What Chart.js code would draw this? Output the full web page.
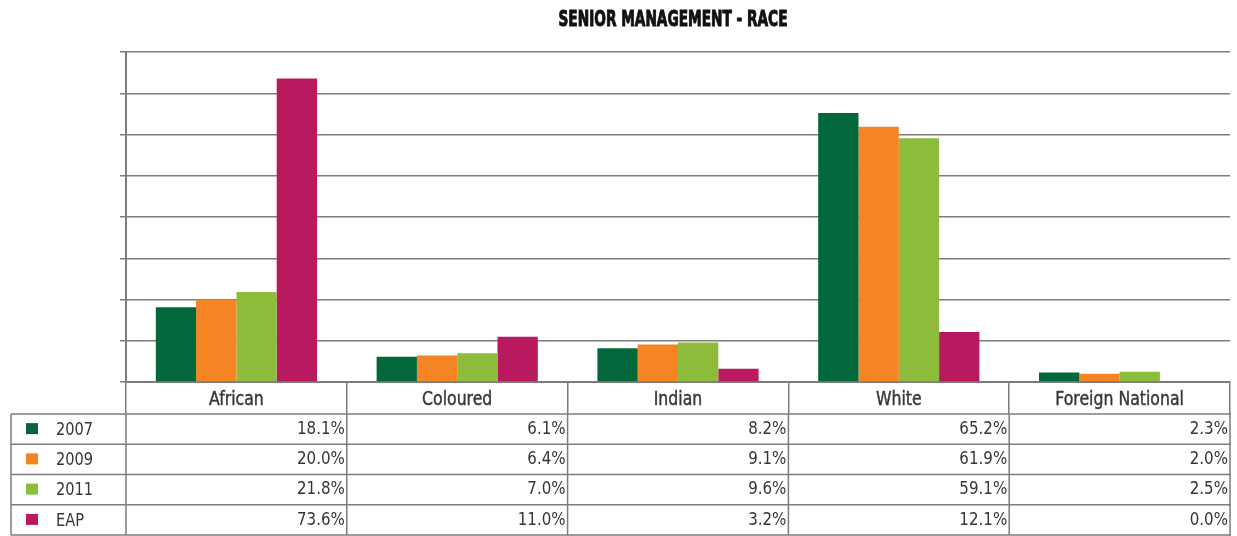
<!DOCTYPE html>
<html lang="en">
<head>
    <meta charset="UTF-8">
    <title>Senior Management - Race</title>
    <script src="https://cdn.jsdelivr.net/npm/chart.js"></script>
    <style>
        body {
            margin: 0;
            background: white;
        }
        #wrap {
            width: 1237px;
            height: 536px;
        }
    </style>
</head>
<body>
    <div id="wrap">
        <canvas id="chart" width="1237" height="536"></canvas>
    </div>

    <script>
        const title = 'SENIOR MANAGEMENT - RACE';
        const categories = ['African', 'Coloured', 'Indian', 'White', 'Foreign National'];
        const seriesNames = ['2007', '2009', '2011', 'EAP'];
        const values2007 = [18.1, 6.1, 8.2, 65.2, 2.3];
        const values2009 = [20.0, 6.4, 9.1, 61.9, 2.0];
        const values2011 = [21.8, 7.0, 9.6, 59.1, 2.5];
        const valuesEAP = [73.6, 11.0, 3.2, 12.1, 0.0];
        const colours = ['#02673a', '#f58423', '#8dbb3b', '#b9195f'];

        const FONT = '"Liberation Sans Narrow", "DejaVu Sans Condensed", sans-serif';
        const LINE = '#7c7c7c';
        const TEXT = '#363636';

        const allValues = [values2007, values2009, values2011, valuesEAP];

        // the original uses a narrow face, so squeeze text a little
        function narrowText(ctx, text, x, y, sx, heavy) {
            ctx.save();
            ctx.translate(x, y);
            ctx.scale(sx, 1);
            if (heavy) {
                ctx.lineWidth = heavy;
                ctx.strokeStyle = ctx.fillStyle;
                ctx.strokeText(text, 0, 0);
            }
            ctx.fillText(text, 0, 0);
            ctx.restore();
        }

        // title, category header row and data table with legend keys
        const tablePlugin = {
            id: 'dataTable',
            afterDraw(chart) {
                const ctx = chart.ctx;
                const area = chart.chartArea;
                const xs = chart.scales.x;
                const colW = xs.width / categories.length;
                const top = area.bottom + 32;
                const bottom = chart.height - 1;
                const rowH = (bottom - top) / seriesNames.length;
                const left = 11;

                ctx.save();

                // title
                ctx.font = 'bold 22px ' + FONT;
                ctx.fillStyle = '#111111';
                ctx.textAlign = 'center';
                ctx.textBaseline = 'middle';
                const tw = ctx.measureText(title).width;
                narrowText(ctx, title, (area.left + area.right) / 2 - 5, 20, Math.min(1, 229 / tw), 1);

                // category names in the header row
                ctx.font = '19px ' + FONT;
                ctx.fillStyle = TEXT;
                categories.forEach((cat, c) => {
                    narrowText(ctx, cat, xs.getPixelForValue(c), area.bottom + 18, 0.92, 0.4);
                });

                ctx.strokeStyle = LINE;
                ctx.lineWidth = 1.5;
                ctx.beginPath();
                for (let r = 0; r <= seriesNames.length; r++) {
                    const y = top + r * rowH;
                    ctx.moveTo(left, y);
                    ctx.lineTo(xs.right + 1, y);
                }
                ctx.moveTo(left, top);
                ctx.lineTo(left, bottom);
                for (let c = 0; c <= categories.length; c++) {
                    const x = xs.getPixelForValue(c) - colW / 2;
                    ctx.moveTo(x, top);
                    ctx.lineTo(x, bottom);
                }
                ctx.stroke();

                ctx.font = '18px ' + FONT;
                seriesNames.forEach((name, r) => {
                    const cy = top + r * rowH + rowH / 2;
                    ctx.fillStyle = colours[r];
                    ctx.fillRect(26, cy - 6, 12, 11);
                    ctx.fillStyle = TEXT;
                    ctx.textAlign = 'left';
                    narrowText(ctx, name, 56, cy + 1, 0.9);
                    ctx.textAlign = 'right';
                    allValues[r].forEach((v, c) => {
                        const x = xs.getPixelForValue(c) + colW / 2 - 2;
                        narrowText(ctx, v.toFixed(1) + '%', x, cy, 0.93);
                    });
                });
                ctx.restore();
            }
        };

        let ctx = document.getElementById('chart').getContext('2d');
        let chart = new Chart(ctx, {
            type: 'bar',
            data: {
                labels: categories,
                datasets: seriesNames.map((name, i) => ({
                    label: name,
                    data: allValues[i],
                    backgroundColor: colours[i],
                    borderWidth: 0,
                    barPercentage: 1,
                    categoryPercentage: 0.73
                }))
            },
            options: {
                responsive: false,
                animation: false,
                devicePixelRatio: 1,
                layout: {
                    padding: { left: 120, right: 7, top: 52, bottom: 122 }
                },
                plugins: {
                    legend: { display: false },
                    tooltip: { enabled: false },
                    title: { display: false }
                },
                scales: {
                    x: {
                        grid: {
                            display: true,
                            drawOnChartArea: false,
                            drawTicks: true,
                            tickLength: 32,
                            color: LINE,
                            lineWidth: 1.5,
                            offset: true
                        },
                        border: { display: true, color: LINE, width: 2 },
                        ticks: { display: false }
                    },
                    y: {
                        min: 0,
                        max: 80,
                        grid: {
                            color: LINE,
                            lineWidth: 1.5,
                            tickLength: 6,
                            drawTicks: true
                        },
                        border: { display: true, color: LINE, width: 2 },
                        ticks: { display: false, stepSize: 10 }
                    }
                }
            },
            plugins: [tablePlugin]
        });
    </script>
</body>
</html>
